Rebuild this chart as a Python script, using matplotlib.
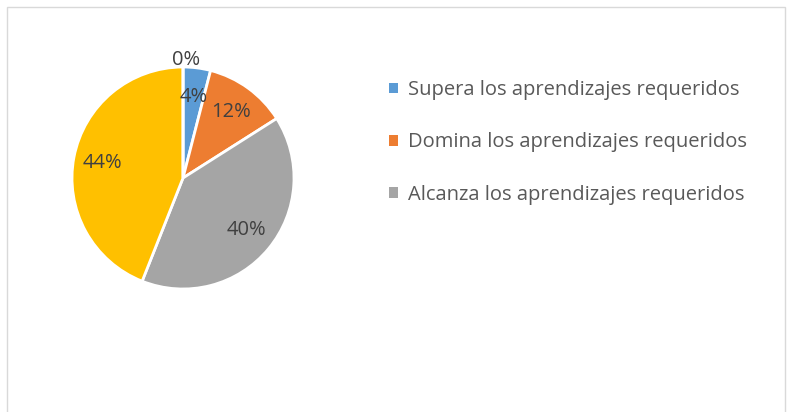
import matplotlib.pyplot as plt
from matplotlib.patches import Rectangle

# Datos del gráfico
categorias = ['Supera los aprendizajes requeridos',
              'Domina los aprendizajes requeridos',
              'Alcanza los aprendizajes requeridos',
              'Está próximo a alcanzar los aprendizajes',
              'No alcanza los aprendizajes requeridos']
valores = [4, 12, 40, 44, 0]
colores = ['#5B9BD5', '#ED7D31', '#A5A5A5', '#FFC000', '#4472C4']

plt.rcParams['font.family'] = ['Open Sans', 'DejaVu Sans']
texto = '#595959'

fig = plt.figure(figsize=(7.92, 4.12), dpi=100)
W, H = 792, 412

# Marco del gráfico
fig.patches.append(Rectangle((7 / W, -0.05), 778 / W, (412 - 7) / H + 0.05,
                             transform=fig.transFigure, fill=False,
                             edgecolor='#D9D9D9', linewidth=1.0))

cx, cy, r = 183, 178, 111
ax = fig.add_axes([(cx - r) / W, (H - cy - r) / H, 2 * r / W, 2 * r / H])

wedges, labels, pcts = ax.pie(valores, colors=colores, startangle=90, counterclock=False,
                              autopct='%1.0f%%', pctdistance=0.74, radius=1,
                              wedgeprops=dict(edgecolor='white', linewidth=2),
                              textprops=dict(color='#404040', fontsize=14.5))
# la etiqueta del 0% va fuera del círculo
pcts[-1].set_position((0.03, 1.06))
ax.set_xlim(-1, 1)
ax.set_ylim(-1, 1)
ax.set_aspect('equal')

leg = fig.legend(wedges[:3], categorias[:3], loc='upper left',
                 bbox_to_anchor=(371 / W, 1 - 62 / H), frameon=False,
                 fontsize=14.5, labelcolor=texto, labelspacing=1.6,
                 handlelength=0.45, handleheight=0.45, handletextpad=0.5)
for h in leg.legend_handles:
    h.set_edgecolor('none')

fig.savefig('out.png', dpi=100)
